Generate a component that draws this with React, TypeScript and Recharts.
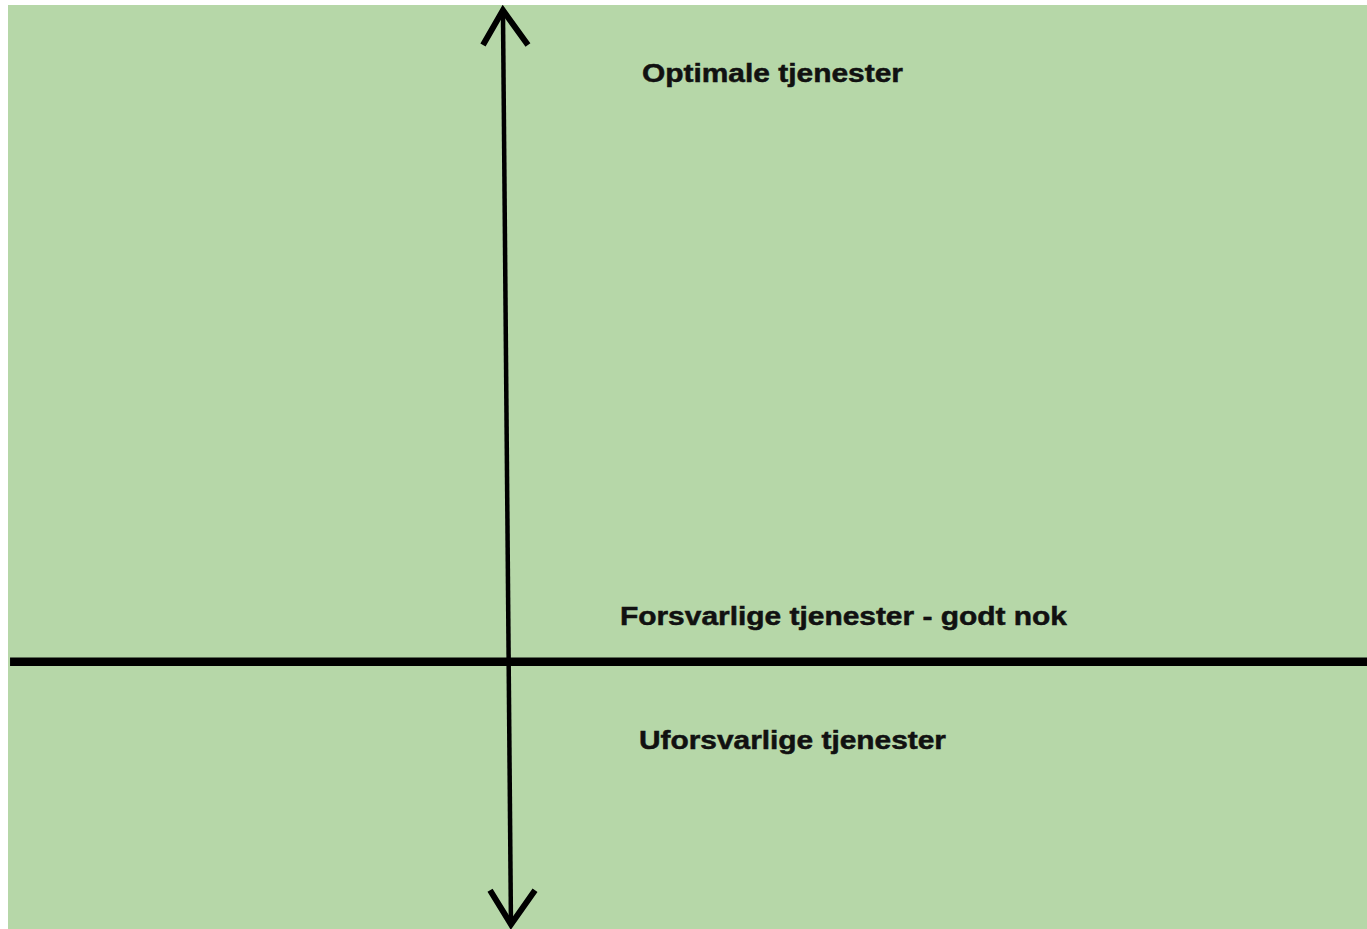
import React from "react";
import { ComposedChart, Line, XAxis, YAxis, ReferenceDot } from "recharts";

// Horizontal "good enough" threshold line
const thresholdX = [0.15, 100];
const thresholdY = [0, 0];

// Vertical quality axis (slightly slanted as in the drawing)
const axisX = [36.42, 37.01];
const axisY = [0.992, -0.4];

// Arrow heads: arm, tip, arm
const topArrowX = [34.95, 36.42, 38.26];
const topArrowY = [0.939, 0.992, 0.939];
const bottomArrowX = [35.47, 37.01, 38.78];
const bottomArrowY = [-0.348, -0.4, -0.348];

// Labels
const labelTexts = ["Optimale tjenester", "Forsvarlige tjenester - godt nok", "Uforsvarlige tjenester"];
const labelX = [46.65, 45.03, 46.43];
const labelY = [0.882, 0.0566, -0.133];
const labelWidths = [261, 447, 307];

const toPoints = (xs: number[], ys: number[]) => xs.map((x, i) => ({ x, y: ys[i] }));

const W = 1359;
const H = 924;

export default function App() {
  return (
    <div style={{ position: "absolute", left: 8, top: 5, width: W, height: H, background: "#b6d7a8" }}>
      <ComposedChart width={W} height={H} margin={{ top: 0, right: 0, bottom: 0, left: 0 }}>
        <XAxis type="number" dataKey="x" domain={[0, 100]} hide allowDataOverflow />
        <YAxis type="number" dataKey="y" domain={[-0.407, 1.0]} hide allowDataOverflow />
        <Line
          data={toPoints(thresholdX, thresholdY)}
          dataKey="y"
          stroke="#000"
          strokeWidth={8.5}
          dot={false}
          isAnimationActive={false}
          type="linear"
        />
        <Line
          data={toPoints(axisX, axisY)}
          dataKey="y"
          stroke="#000"
          strokeWidth={4.5}
          dot={false}
          isAnimationActive={false}
          type="linear"
        />
        <Line
          data={toPoints(topArrowX, topArrowY)}
          dataKey="y"
          stroke="#000"
          strokeWidth={6}
          strokeLinejoin="miter"
          dot={false}
          isAnimationActive={false}
          type="linear"
        />
        <Line
          data={toPoints(bottomArrowX, bottomArrowY)}
          dataKey="y"
          stroke="#000"
          strokeWidth={6}
          strokeLinejoin="miter"
          dot={false}
          isAnimationActive={false}
          type="linear"
        />
        {labelTexts.map((t, i) => (
          <ReferenceDot
            key={t}
            x={labelX[i]}
            y={labelY[i]}
            r={0}
            fill="none"
            stroke="none"
            label={(props: any) => {
              const vb = props.viewBox || {};
              const cx = vb.x !== undefined ? vb.x + (vb.width || 0) / 2 : props.x;
              const cy = vb.y !== undefined ? vb.y + (vb.height || 0) / 2 : props.y;
              return (
                <text
                  x={cx}
                  y={cy}
                  fill="#111"
                  stroke="#111"
                  strokeWidth={0.5}
                  fontFamily="'Liberation Sans', Arial, sans-serif"
                  fontWeight="bold"
                  fontSize={25}
                  textLength={labelWidths[i]}
                  lengthAdjust="spacingAndGlyphs"
                >
                  {t}
                </text>
              );
            }}
          />
        ))}
      </ComposedChart>
    </div>
  );
}
